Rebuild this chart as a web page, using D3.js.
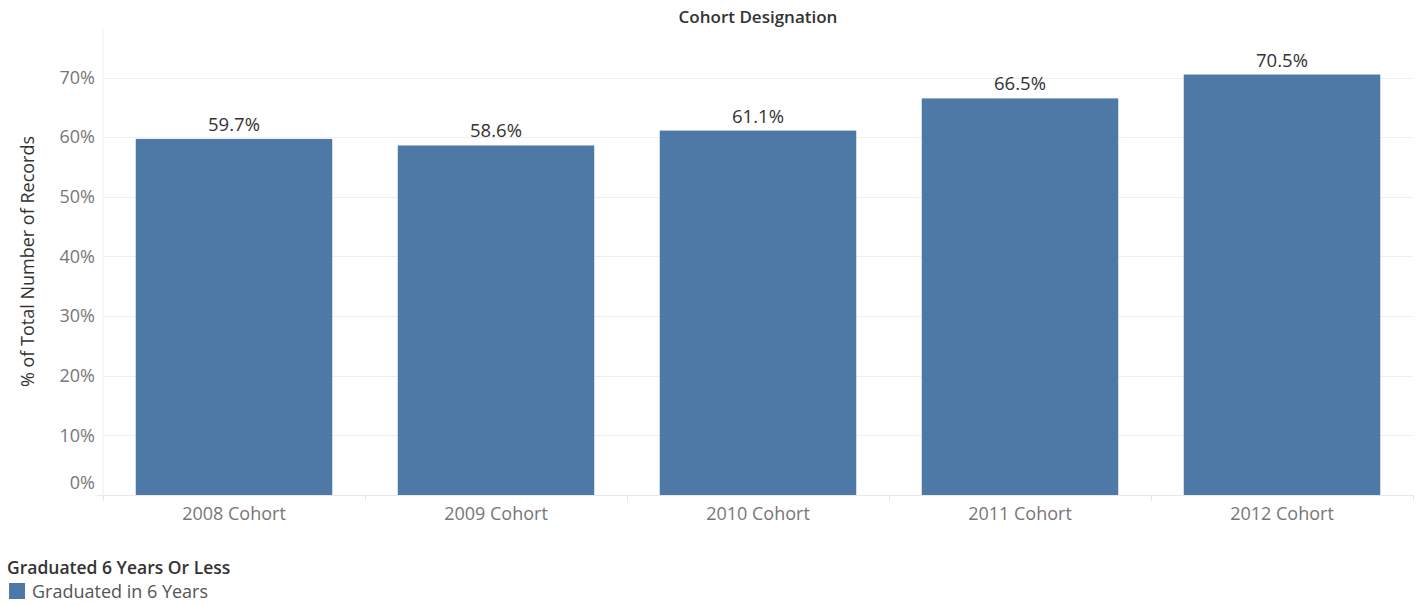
<!DOCTYPE html>
<html>
<head>
<meta charset="utf-8">
<script src="https://cdn.jsdelivr.net/npm/d3@7"></script>
<style>
  body { margin: 0; background: #fff; }
  text { font-family: "Open Sans", "Noto Sans", sans-serif; }
</style>
</head>
<body>
<div id="chart"></div>
<script>
const cohorts = ["2008 Cohort", "2009 Cohort", "2010 Cohort", "2011 Cohort", "2012 Cohort"];
const gradRates = [59.7, 58.6, 61.1, 66.5, 70.5];
const yTicks = [0, 10, 20, 30, 40, 50, 60, 70];

const canvasWidth = 1424;
const canvasHeight = 605;
const margin = { top: 28, right: 11, bottom: 110, left: 103 };
const barColor = "#4e79a7";

const svg = d3.select("#chart")
    .append("svg")
    .attr("width", canvasWidth)
    .attr("height", canvasHeight);

const xScale = d3.scaleBand()
    .domain(cohorts)
    .range([margin.left, canvasWidth - margin.right])
    .paddingInner(0.25)
    .paddingOuter(0.125);

const yScale = d3.scaleLinear()
    .domain([0, 78.3])
    .range([495, margin.top]);

// plot frame line on left
svg.append("line")
    .attr("x1", margin.left).attr("x2", margin.left)
    .attr("y1", margin.top).attr("y2", 500)
    .attr("stroke", "#eeeeee");

// gridlines
svg.append("g")
    .selectAll("line")
    .data(yTicks.filter(d => d > 0))
    .join("line")
    .attr("x1", margin.left)
    .attr("x2", canvasWidth - margin.right)
    .attr("y1", d => Math.round(yScale(d)) + 0.5)
    .attr("y2", d => Math.round(yScale(d)) + 0.5)
    .attr("stroke", "#efefef");

// baseline
svg.append("line")
    .attr("x1", 97).attr("x2", canvasWidth - margin.right)
    .attr("y1", yScale(0) + 0.5).attr("y2", yScale(0) + 0.5)
    .attr("stroke", "#e8e8e8");

// y axis labels
const yAxis = d3.axisLeft(yScale)
    .tickValues(yTicks)
    .tickFormat(d => d + "%")
    .tickSize(0)
    .tickPadding(8);

const yAxisG = svg.append("g")
    .attr("transform", `translate(${margin.left},0)`)
    .call(yAxis);
yAxisG.select(".domain").remove();
yAxisG.selectAll("text")
    .attr("fill", "#777")
    .attr("font-size", 18)
    .attr("font-family", "Open Sans, sans-serif")
    .attr("dy", d => d === 0 ? "-0.35em" : "0.32em");

// x axis
const xAxis = d3.axisBottom(xScale).tickSize(0).tickPadding(12);
const xAxisG = svg.append("g")
    .attr("transform", `translate(0,${yScale(0)})`)
    .call(xAxis);
xAxisG.select(".domain").remove();
xAxisG.selectAll("text")
    .attr("fill", "#777")
    .attr("font-size", 18)
    .attr("font-family", "Open Sans, sans-serif");

// divider ticks between categories
const step = xScale.step();
svg.append("g")
    .selectAll("line")
    .data(d3.range(cohorts.length + 1))
    .join("line")
    .attr("x1", i => Math.round(margin.left + i * step) + 0.5)
    .attr("x2", i => Math.round(margin.left + i * step) + 0.5)
    .attr("y1", yScale(0))
    .attr("y2", yScale(0) + 6)
    .attr("stroke", "#e6e6e6");

// bars
svg.append("g")
    .selectAll("rect")
    .data(cohorts)
    .join("rect")
    .attr("x", d => xScale(d))
    .attr("y", (d, i) => yScale(gradRates[i]))
    .attr("width", xScale.bandwidth())
    .attr("height", (d, i) => yScale(0) - yScale(gradRates[i]))
    .attr("fill", barColor);

// bar labels
svg.append("g")
    .selectAll("text")
    .data(cohorts)
    .join("text")
    .attr("x", d => xScale(d) + xScale.bandwidth() / 2)
    .attr("y", (d, i) => yScale(gradRates[i]) - 8)
    .attr("text-anchor", "middle")
    .attr("font-size", 18.5)
    .attr("fill", "#333")
    .text((d, i) => gradRates[i].toFixed(1) + "%");

// column header
svg.append("text")
    .attr("x", (margin.left + canvasWidth - margin.right) / 2)
    .attr("y", 23)
    .attr("text-anchor", "middle")
    .attr("font-size", 17)
    .attr("font-weight", "600")
    .attr("fill", "#333")
    .text("Cohort Designation");

// y axis title
svg.append("text")
    .attr("transform", `translate(34,${(margin.top + 495) / 2}) rotate(-90)`)
    .attr("text-anchor", "middle")
    .attr("font-size", 18)
    .attr("fill", "#333")
    .text("% of Total Number of Records");

// legend
svg.append("text")
    .attr("x", 7)
    .attr("y", 574)
    .attr("font-size", 17.5)
    .attr("font-weight", "600")
    .attr("fill", "#333")
    .text("Graduated 6 Years Or Less");

svg.append("rect")
    .attr("x", 9).attr("y", 583)
    .attr("width", 16).attr("height", 16)
    .attr("fill", barColor);

svg.append("text")
    .attr("x", 32)
    .attr("y", 598)
    .attr("font-size", 18)
    .attr("fill", "#555")
    .text("Graduated in 6 Years");
</script>
</body>
</html>
